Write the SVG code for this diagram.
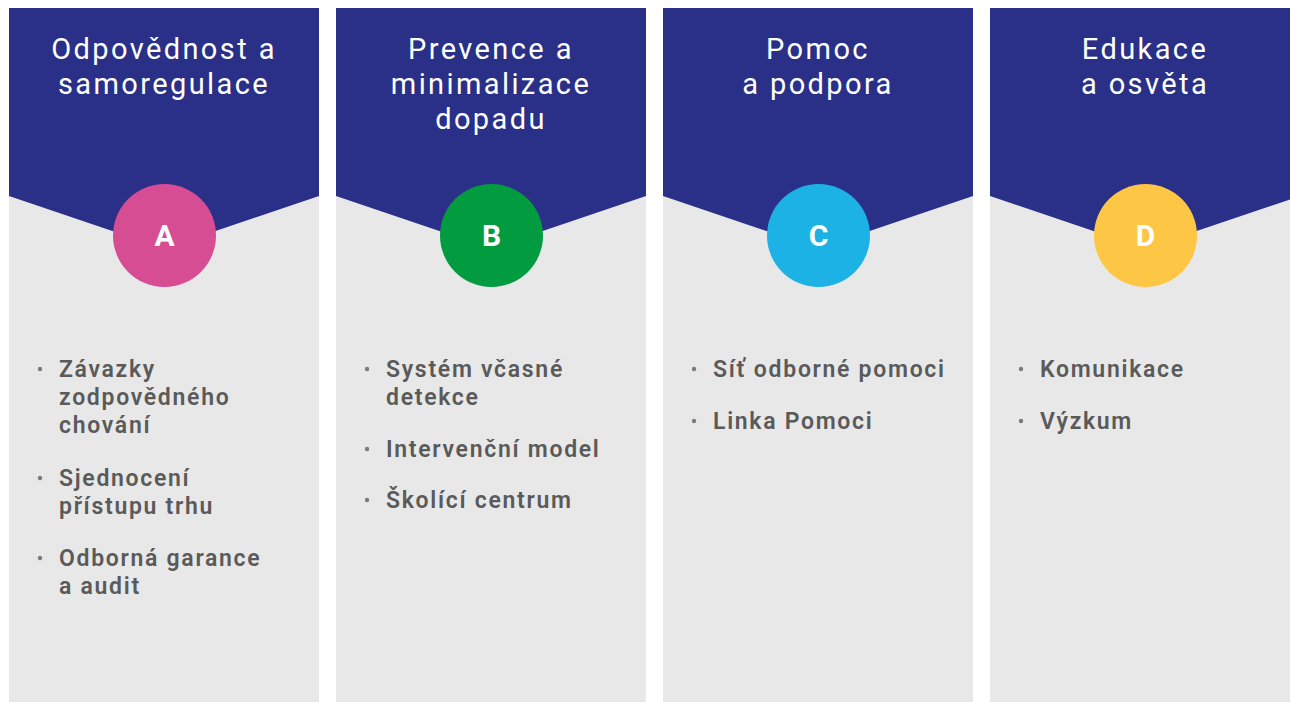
<svg xmlns="http://www.w3.org/2000/svg" width="1290" height="702" viewBox="0 0 1290 702">
<style>
.bg{fill:#E8E8E8}
.hd{fill:#2A3087}
.ht{font-family:Roboto,"Liberation Sans",sans-serif;font-size:29px;fill:#FFFFFF;text-anchor:middle;letter-spacing:2.4px}
.lt{font-family:Roboto,"Liberation Sans",sans-serif;font-size:30px;font-weight:700;fill:#FFFFFF;text-anchor:middle}
.it{font-family:Roboto,"Liberation Sans",sans-serif;font-size:23px;font-weight:600;fill:#5A5A5A;letter-spacing:1.7px}
.bu{fill:#7A7A7A}
</style>
<rect x="0" y="0" width="1290" height="702" fill="#FFFFFF"/>
<g id="col-a">
<rect class="bg" x="9" y="8" width="310" height="694"/>
<polygon class="hd" points="9,8 319,8 319,196 164,248.5 9,196"/>
<text class="ht"><tspan x="164" y="59">Odpovědnost a</tspan><tspan x="164" y="94">samoregulace</tspan></text>
<circle cx="164.5" cy="235.5" r="51.5" fill="#D64D94"/>
<text class="lt" x="164.5" y="246">A</text>
<circle class="bu" cx="40" cy="369" r="2.2"/>
<text class="it"><tspan x="59" y="377">Závazky</tspan><tspan x="59" y="405">zodpovědného</tspan><tspan x="59" y="433">chování</tspan></text>
<circle class="bu" cx="40" cy="478" r="2.2"/>
<text class="it"><tspan x="59" y="486">Sjednocení</tspan><tspan x="59" y="514">přístupu trhu</tspan></text>
<circle class="bu" cx="40" cy="558" r="2.2"/>
<text class="it"><tspan x="59" y="566">Odborná garance</tspan><tspan x="59" y="594">a audit</tspan></text>
</g>
<g id="col-b">
<rect class="bg" x="336" y="8" width="310" height="694"/>
<polygon class="hd" points="336,8 646,8 646,196 491,248.5 336,196"/>
<text class="ht"><tspan x="491" y="59">Prevence a</tspan><tspan x="491" y="94">minimalizace</tspan><tspan x="491" y="129">dopadu</tspan></text>
<circle cx="491.5" cy="235.5" r="51.5" fill="#029B3F"/>
<text class="lt" x="491.5" y="246">B</text>
<circle class="bu" cx="367" cy="369" r="2.2"/>
<text class="it"><tspan x="386" y="377">Systém včasné</tspan><tspan x="386" y="405">detekce</tspan></text>
<circle class="bu" cx="367" cy="449" r="2.2"/>
<text class="it" x="386" y="457">Intervenční model</text>
<circle class="bu" cx="367" cy="500" r="2.2"/>
<text class="it" x="386" y="508">Školící centrum</text>
</g>
<g id="col-c">
<rect class="bg" x="663" y="8" width="310" height="694"/>
<polygon class="hd" points="663,8 973,8 973,196 818,248.5 663,196"/>
<text class="ht"><tspan x="818" y="59">Pomoc</tspan><tspan x="818" y="94">a podpora</tspan></text>
<circle cx="818.5" cy="235.5" r="51.5" fill="#1DB2E6"/>
<text class="lt" x="818.5" y="246">C</text>
<circle class="bu" cx="694" cy="369" r="2.2"/>
<text class="it" x="713" y="377">Síť odborné pomoci</text>
<circle class="bu" cx="694" cy="421" r="2.2"/>
<text class="it" x="713" y="429">Linka Pomoci</text>
</g>
<g id="col-d">
<rect class="bg" x="990" y="8" width="310" height="694"/>
<polygon class="hd" points="990,8 1300,8 1300,196 1145,248.5 990,196"/>
<text class="ht"><tspan x="1145" y="59">Edukace</tspan><tspan x="1145" y="94">a osvěta</tspan></text>
<circle cx="1145.5" cy="235.5" r="51.5" fill="#FDC745"/>
<text class="lt" x="1145.5" y="246">D</text>
<circle class="bu" cx="1021" cy="369" r="2.2"/>
<text class="it" x="1040" y="377">Komunikace</text>
<circle class="bu" cx="1021" cy="421" r="2.2"/>
<text class="it" x="1040" y="429">Výzkum</text>
</g>
<g id="connectors"></g>
</svg>
